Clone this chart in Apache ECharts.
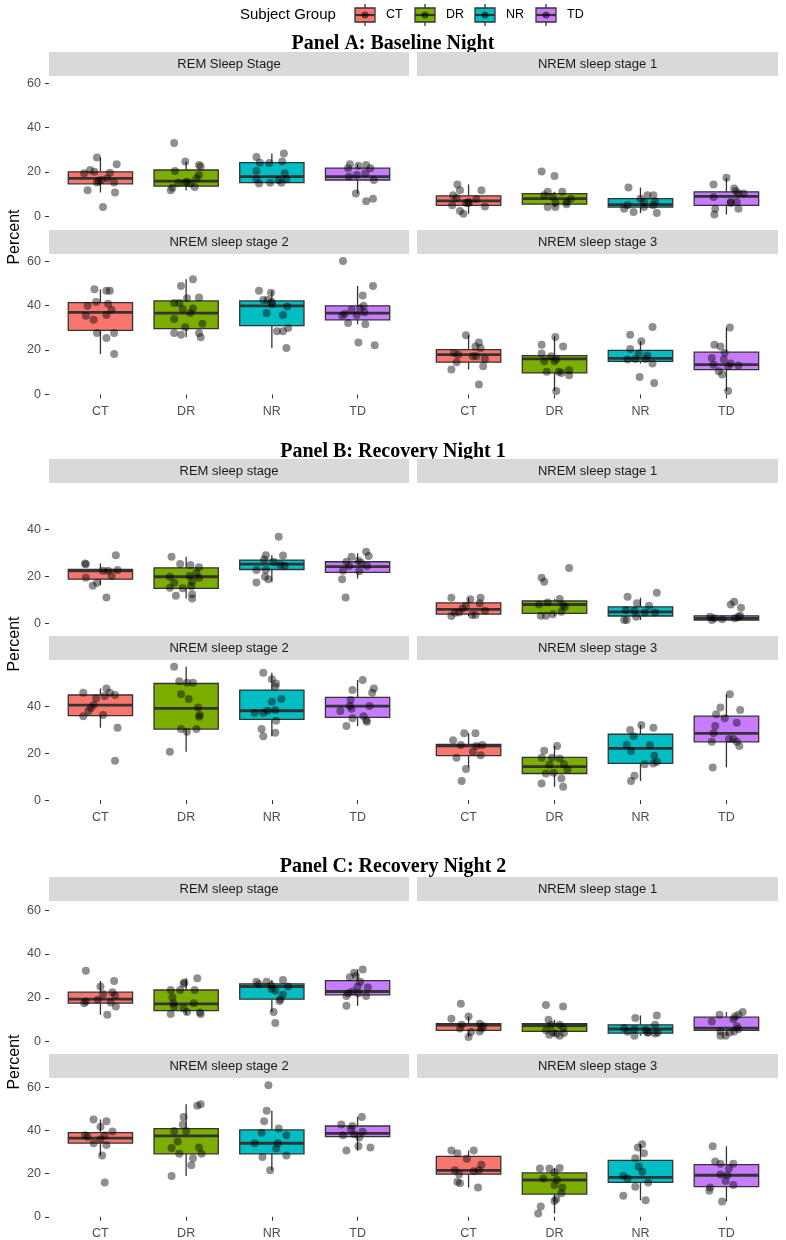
<!DOCTYPE html>
<html><head><meta charset="utf-8">
<script src="https://cdn.jsdelivr.net/npm/echarts@6/dist/echarts.min.js"></script>
<style>html,body{margin:0;padding:0;background:#fff}#c{width:786px;height:1240px}</style>
</head><body><div id="c"></div>
<script>
const groups = ['CT','DR','NR','TD'];
const panelTitles = ['Panel A: Baseline Night','Panel B: Recovery Night 1','Panel C: Recovery Night 2'];
const stripLabels = [
  ['REM Sleep Stage','NREM sleep stage 1','NREM sleep stage 2','NREM sleep stage 3'],
  ['REM sleep stage','NREM sleep stage 1','NREM sleep stage 2','NREM sleep stage 3'],
  ['REM sleep stage','NREM sleep stage 1','NREM sleep stage 2','NREM sleep stage 3']
];
const yTickValues = [0,20,40,60];
const legendTitle = 'Subject Group';
const yTitle = 'Percent';

// box stats per group: [lower whisker, Q1, median, Q3, upper whisker]
// points per group: [jitter, value]
const A_REM_box = [[10.8,14.7,17.1,20.1,26.5],[11.8,13.6,15.9,20.9,24.7],[14.8,15.2,17.9,24.2,28.3],[10.3,16.4,17.9,21.7,23.5]];
const A_REM_pts = [
 [[-0.04,26.5],[-0.19,19.4],[-0.12,20.9],[-0.07,20.1],[0.19,23.5],[0.11,19.7],[0.08,17.1],[-0.02,15.9],[0.01,16.4],[-0.04,15.3],[0.16,15.3],[-0.15,11.8],[0.17,10.8],[0.03,4.2]],
 [[-0.14,33.0],[-0.01,24.7],[-0.13,20.5],[0.15,23.2],[0.17,22.5],[0.15,18.6],[0.12,17.1],[-0.09,15.2],[0.01,15.6],[0.05,14.8],[0.10,13.3],[-0.18,11.8],[-0.16,12.9],[-0.01,15.2]],
 [[-0.18,26.7],[-0.14,24.2],[-0.03,24.0],[0.14,28.3],[0.12,24.7],[-0.18,20.5],[0.15,19.4],[-0.18,16.7],[-0.15,14.8],[-0.02,15.2],[0.08,16.4],[0.11,15.2],[0.17,16.7]],
 [[-0.09,23.5],[0.01,22.8],[0.10,23.2],[-0.11,21.7],[0.15,21.7],[-0.10,17.9],[-0.01,18.6],[0.09,19.4],[0.19,16.4],[-0.02,10.3],[0.10,6.8],[0.18,8.0]]
];
const A_N1_box = [[1.2,5.0,7.0,9.3,14.4],[4.2,5.5,8.0,10.3,11.1],[1.5,4.2,5.3,8.0,13.0],[0.9,5.0,9.0,11.1,17.4]];
const A_N1_pts = [
 [[-0.13,14.4],[-0.10,11.8],[0.15,11.8],[-0.18,9.5],[-0.14,8.3],[0.00,6.5],[0.09,7.9],[-0.03,6.1],[-0.19,5.0],[-0.10,2.4],[-0.06,1.2],[0.00,6.0],[0.19,4.5]],
 [[-0.15,20.2],[0.00,18.2],[-0.08,11.1],[0.09,11.1],[-0.12,9.5],[-0.02,8.9],[0.19,8.0],[0.14,6.5],[-0.08,4.2],[0.01,4.2],[0.14,5.5],[0.01,6.2]],
 [[-0.14,13.0],[0.08,9.5],[0.15,9.5],[0.00,8.0],[0.04,6.5],[0.17,6.8],[-0.19,3.5],[-0.08,2.0],[0.04,4.2],[0.19,1.5],[-0.15,5.0],[0.15,5.0]],
 [[0.00,17.4],[-0.15,14.4],[0.09,12.6],[0.11,11.5],[0.20,10.3],[0.14,10.3],[-0.15,8.8],[0.05,6.5],[0.12,6.5],[-0.13,3.5],[-0.14,0.9],[0.05,6.0],[0.14,3.5]]
];
const A_N2_box = [[18.2,28.8,36.9,41.3,47.3],[25.7,29.6,36.6,42.1,51.8],[20.9,31.0,39.9,42.1,46.7],[31.6,33.6,36.6,39.9,48.8]];
const A_N2_pts = [
 [[-0.07,47.3],[0.07,46.7],[0.11,46.7],[-0.05,41.6],[-0.15,39.9],[0.09,40.8],[0.13,38.1],[-0.17,35.4],[-0.08,33.6],[0.07,35.7],[-0.04,27.6],[0.16,27.6],[0.07,25.4],[0.16,18.2]],
 [[0.08,51.8],[-0.06,48.8],[0.01,43.3],[0.15,43.6],[-0.14,41.1],[-0.08,41.1],[-0.04,38.4],[0.08,38.7],[0.05,36.6],[-0.14,33.9],[0.19,31.8],[-0.01,30.2],[-0.14,27.6],[-0.06,26.9],[0.15,27.6],[0.17,25.7]],
 [[-0.15,46.7],[-0.01,45.8],[-0.10,42.5],[0.00,41.6],[-0.05,42.5],[0.00,40.6],[0.18,39.6],[-0.06,36.6],[0.13,35.8],[0.06,28.4],[0.13,28.4],[0.19,29.9],[0.17,20.9]],
 [[-0.17,60.0],[0.18,48.8],[0.06,44.5],[0.07,39.9],[0.03,38.8],[-0.07,38.1],[-0.18,35.4],[-0.15,36.3],[-0.01,35.8],[0.08,37.0],[-0.11,32.1],[0.09,31.6],[0.01,23.4],[0.20,22.1]]
];
const A_N3_box = [[11.2,14.5,17.9,20.2,26.6],[1.5,9.7,16.0,17.5,26.1],[13.9,14.9,16.2,19.8,23.9],[1.5,11.2,13.4,19.0,30.1]];
const A_N3_pts = [
 [[-0.03,26.6],[0.12,23.4],[0.08,21.6],[0.14,20.9],[-0.17,18.7],[-0.12,17.9],[0.05,17.2],[0.09,17.2],[-0.14,14.5],[0.19,16.0],[0.17,12.7],[-0.20,11.2],[0.12,4.5]],
 [[0.01,25.8],[-0.15,22.4],[0.10,21.6],[-0.15,18.4],[-0.04,17.2],[0.02,16.0],[-0.12,14.9],[0.00,14.9],[-0.09,10.2],[0.05,10.2],[0.08,9.7],[0.17,10.9],[0.17,8.6],[0.02,1.5]],
 [[0.14,30.3],[-0.12,26.9],[0.01,23.9],[-0.12,20.5],[-0.02,18.4],[0.08,17.5],[-0.15,15.7],[-0.06,16.0],[0.06,16.0],[0.14,13.9],[-0.01,7.9],[0.16,5.2]],
 [[0.04,30.1],[-0.14,22.4],[-0.07,21.6],[-0.02,18.7],[-0.17,16.4],[-0.03,15.7],[-0.15,13.4],[0.05,13.9],[0.02,12.7],[0.14,13.0],[-0.09,10.4],[-0.05,9.0],[0.02,1.5]]
];
const B_REM_box = [[16.2,18.7,22.2,22.8,25.4],[10.5,14.8,19.7,23.5,28.2],[17.6,22.8,25.1,26.8,28.9],[19.0,21.6,24.0,26.1,29.7]];
const B_REM_pts = [
 [[-0.18,25.4],[-0.17,25.0],[0.18,28.9],[0.03,22.3],[0.09,22.3],[0.20,22.6],[0.13,20.0],[-0.17,19.3],[-0.04,17.2],[-0.09,15.9],[0.07,10.9]],
 [[-0.17,28.2],[-0.07,25.1],[0.05,24.7],[0.15,23.7],[0.12,21.4],[-0.19,19.7],[0.04,20.0],[0.15,19.3],[-0.14,17.2],[0.07,17.7],[-0.19,15.0],[-0.04,14.8],[0.06,15.7],[-0.12,11.6],[0.07,12.3],[0.07,10.5]],
 [[0.08,36.7],[-0.07,28.9],[0.13,28.7],[-0.09,27.1],[0.02,26.1],[0.10,24.7],[0.15,24.3],[-0.07,22.6],[-0.18,22.6],[-0.08,19.7],[-0.04,18.6],[-0.18,17.3]],
 [[0.10,30.3],[0.13,28.5],[-0.07,28.2],[-0.13,26.1],[0.01,26.5],[0.04,25.7],[0.11,24.3],[-0.10,24.3],[-0.17,22.3],[0.02,22.1],[-0.18,18.7],[-0.14,10.9]]
];
const B_N1_box = [[3.0,3.8,5.8,8.6,10.8],[3.1,4.1,7.9,9.4,10.2],[1.3,3.0,4.8,6.9,10.8],[1.3,1.3,2.0,3.1,3.1]];
const B_N1_pts = [
 [[-0.20,10.8],[0.02,10.1],[0.14,10.8],[0.13,8.4],[-0.03,7.4],[-0.07,6.2],[0.19,5.2],[-0.11,4.5],[-0.16,4.4],[-0.20,3.0],[0.04,3.4],[0.08,3.4]],
 [[0.17,23.4],[-0.15,19.3],[-0.12,17.6],[0.06,10.2],[-0.08,8.8],[-0.18,7.9],[0.10,7.7],[0.12,6.8],[0.08,4.8],[-0.16,3.1],[-0.10,3.1],[-0.02,3.8]],
 [[0.19,12.9],[-0.15,11.2],[-0.04,8.4],[0.10,7.4],[-0.17,5.5],[-0.07,5.2],[0.17,4.5],[0.05,4.5],[-0.05,2.7],[-0.19,1.3],[-0.16,1.3]],
 [[0.09,9.1],[0.05,7.9],[0.17,6.5],[-0.19,2.7],[-0.14,2.0],[-0.05,1.6],[0.10,2.0],[0.14,2.7],[-0.17,1.3],[0.16,3.1]]
];
const B_N2_box = [[30.8,35.9,40.4,44.7,47.5],[20.6,30.2,39.0,49.6,56.7],[27.2,34.3,38.0,46.8,54.2],[31.5,35.2,40.0,43.7,51.1]];
const B_N2_pts = [
 [[-0.20,45.7],[0.07,47.5],[0.11,45.7],[0.17,44.7],[0.05,44.3],[-0.05,43.3],[-0.08,40.4],[-0.11,39.3],[-0.14,37.9],[-0.20,35.7],[0.03,36.2],[0.20,30.8],[0.17,16.7]],
 [[-0.14,56.7],[-0.08,50.6],[0.01,49.9],[0.08,49.9],[-0.06,45.0],[0.03,43.0],[0.14,39.4],[0.16,36.2],[0.15,35.5],[-0.06,30.2],[0.12,30.2],[0.01,29.1],[-0.19,20.6]],
 [[-0.10,54.2],[0.00,51.4],[0.05,49.6],[0.04,48.2],[0.11,43.0],[0.00,41.8],[-0.20,37.2],[-0.10,37.2],[-0.05,38.0],[0.04,38.3],[0.05,33.8],[-0.12,30.2],[-0.10,27.2],[0.04,28.6]],
 [[0.06,51.1],[-0.06,46.8],[0.19,47.5],[0.17,45.7],[-0.08,42.6],[-0.09,40.0],[-0.07,38.9],[0.14,40.0],[-0.20,37.9],[-0.06,34.8],[0.07,35.7],[0.10,34.0],[0.11,33.3],[-0.13,31.5]]
];
const B_N3_box = [[13.9,18.9,23.1,23.7,28.4],[5.7,11.3,14.2,18.2,23.0],[8.1,15.6,22.0,28.0,31.9],[13.9,24.8,28.4,35.7,45.0]];
const B_N3_pts = [
 [[-0.05,28.4],[0.08,28.4],[-0.18,25.5],[-0.09,23.4],[0.09,23.0],[0.16,23.4],[0.05,20.6],[0.14,19.1],[-0.14,18.0],[-0.03,13.2],[-0.08,8.1]],
 [[0.03,23.0],[-0.12,21.0],[-0.15,18.0],[-0.03,18.0],[0.06,17.7],[0.11,15.2],[-0.06,15.0],[0.15,13.0],[-0.10,11.3],[-0.01,11.6],[0.08,9.2],[-0.15,7.1],[0.10,5.7]],
 [[0.01,31.9],[-0.12,29.8],[0.15,30.8],[-0.08,27.2],[-0.16,23.4],[0.11,23.4],[-0.11,20.9],[0.16,18.9],[0.19,16.3],[0.15,15.6],[0.05,15.2],[-0.07,10.4],[-0.11,8.1]],
 [[0.04,45.0],[-0.07,39.4],[0.16,38.3],[-0.12,36.5],[-0.02,34.8],[0.12,32.9],[-0.13,31.5],[-0.15,28.4],[0.03,26.0],[0.08,26.0],[-0.17,24.8],[0.12,24.8],[0.15,23.0],[-0.16,13.9]]
];
const C_REM_box = [[12.3,17.6,19.4,22.6,27.7],[12.3,14.2,17.3,23.6,29.0],[13.5,19.4,25.2,26.4,28.2],[16.4,21.4,22.9,27.9,33.0]];
const C_REM_pts = [
 [[-0.17,32.4],[0.16,27.7],[0.00,25.2],[0.14,22.6],[0.03,21.8],[0.17,21.1],[-0.03,19.1],[-0.17,18.3],[-0.19,17.6],[0.12,17.9],[0.18,16.1],[0.08,12.3]],
 [[0.13,29.0],[-0.02,27.0],[-0.03,26.5],[-0.18,23.6],[-0.07,23.6],[0.10,23.6],[-0.16,20.3],[-0.15,17.6],[0.09,17.6],[-0.14,16.1],[-0.03,15.3],[-0.18,12.6],[0.01,13.5],[0.16,13.3],[0.17,12.6]],
 [[-0.18,27.4],[-0.06,27.4],[0.13,28.2],[-0.15,26.2],[-0.01,25.6],[0.19,25.2],[0.04,23.3],[0.00,24.0],[0.13,21.4],[0.09,18.6],[0.10,19.4],[0.02,13.5],[0.04,8.5]],
 [[0.06,33.0],[-0.04,31.5],[-0.02,30.0],[-0.09,29.4],[0.03,27.4],[0.00,25.2],[0.12,24.7],[-0.11,22.1],[-0.06,22.9],[0.01,22.1],[-0.13,20.9],[0.10,20.9],[-0.13,16.4]]
];
const C_N1_box = [[2.1,5.2,7.6,8.2,11.5],[2.7,4.7,7.4,8.2,10.0],[2.7,3.9,5.8,7.7,12.0],[2.7,5.2,6.2,11.2,13.5]];
const C_N1_pts = [
 [[-0.09,17.3],[-0.20,10.5],[0.00,11.5],[-0.08,7.7],[0.13,8.2],[0.17,7.0],[0.15,6.0],[0.03,4.4],[0.00,2.1],[0.13,4.7],[-0.10,6.0]],
 [[-0.10,16.8],[0.10,16.1],[-0.07,10.0],[-0.04,7.7],[0.06,7.7],[0.10,6.1],[-0.10,5.2],[-0.02,4.2],[0.02,3.6],[0.11,4.0],[-0.06,3.2],[0.06,2.7]],
 [[-0.06,10.8],[0.19,12.0],[-0.19,6.2],[-0.07,5.8],[0.17,7.7],[0.06,5.5],[0.09,4.2],[0.20,4.2],[-0.15,4.5],[-0.07,2.7],[0.08,4.2],[0.17,3.8]],
 [[0.19,13.5],[-0.08,12.3],[0.14,12.3],[0.10,11.5],[0.08,10.3],[-0.17,9.2],[0.12,7.0],[0.14,5.8],[-0.07,4.7],[0.04,4.2],[-0.01,2.7],[-0.07,2.7],[0.09,4.7]]
];
const C_N2_box = [[28.3,34.1,36.4,38.9,45.0],[18.8,29.1,37.4,40.8,52.0],[21.5,29.1,34.0,40.2,49.1],[30.6,37.1,38.6,42.0,46.2]];
const C_N2_pts = [
 [[-0.08,45.0],[0.07,44.2],[0.00,41.7],[0.14,39.4],[-0.18,37.7],[-0.15,37.0],[0.05,37.7],[0.00,35.9],[0.07,33.2],[-0.08,34.0],[0.02,28.3],[0.05,15.8]],
 [[0.13,51.4],[0.17,52.0],[-0.03,46.2],[-0.04,42.7],[-0.14,39.7],[0.00,39.7],[-0.10,34.8],[-0.17,31.8],[0.15,32.1],[-0.08,29.1],[0.18,29.1],[0.08,27.1],[0.06,23.8],[-0.17,18.8]],
 [[-0.04,60.9],[-0.06,49.1],[-0.09,44.2],[0.08,40.8],[-0.12,38.9],[0.17,37.7],[-0.20,34.0],[0.07,34.0],[0.05,31.6],[-0.11,27.6],[0.17,28.3],[-0.02,21.5]],
 [[0.05,46.2],[-0.19,42.7],[-0.06,42.0],[-0.08,40.5],[0.06,39.3],[-0.17,37.7],[-0.04,38.2],[0.02,36.7],[0.15,32.1],[-0.13,30.6],[0.01,32.6]]
];
const C_N3_box = [[13.5,19.7,21.5,27.9,30.6],[1.5,10.5,17.0,20.3,22.6],[7.6,15.9,18.2,26.1,33.6],[7.1,13.9,19.2,24.1,32.6]];
const C_N3_pts = [
 [[-0.20,30.6],[0.06,30.6],[-0.13,29.4],[-0.02,26.8],[0.15,24.1],[-0.16,21.5],[0.06,21.1],[0.12,21.5],[-0.11,19.7],[-0.13,16.2],[-0.10,15.5],[0.11,13.5]],
 [[-0.17,22.3],[-0.06,22.3],[0.06,22.6],[0.00,20.5],[-0.13,17.7],[0.03,17.0],[0.00,14.7],[0.09,13.5],[0.08,10.9],[0.02,8.2],[0.00,7.3],[-0.16,4.8],[-0.19,1.5]],
 [[0.02,33.6],[-0.03,32.1],[0.04,29.4],[-0.06,27.1],[-0.02,23.3],[0.02,20.8],[-0.20,18.8],[-0.15,17.7],[0.09,15.9],[-0.06,13.9],[-0.20,9.7],[0.06,7.6]],
 [[-0.16,32.6],[-0.13,25.6],[-0.07,24.5],[0.08,24.5],[0.03,22.3],[-0.07,19.5],[0.01,19.2],[-0.01,16.5],[0.08,14.7],[-0.19,13.5],[-0.20,12.0],[-0.05,7.1]]
];

const facetData = [
  [[A_REM_box,A_REM_pts],[A_N1_box,A_N1_pts],[A_N2_box,A_N2_pts],[A_N3_box,A_N3_pts]],
  [[B_REM_box,B_REM_pts],[B_N1_box,B_N1_pts],[B_N2_box,B_N2_pts],[B_N3_box,B_N3_pts]],
  [[C_REM_box,C_REM_pts],[C_N1_box,C_N1_pts],[C_N2_box,C_N2_pts],[C_N3_box,C_N3_pts]]
];

// ---- styling / layout ----
const fillColors = ['#F8766D','#7CAE00','#00BFC4','#C77CFF'];
const SANS = 'Liberation Sans, Arial, sans-serif';
const SERIF = 'Liberation Serif, Times New Roman, serif';
const layout = [
  {titleY:44, percentY:237, rowTop:[76,254], h:144, ymin:-1.6, ymax:63.2},
  {titleY:452, percentY:644, rowTop:[483,660], h:143.6, ymin:-1.5, ymax:59.6},
  {titleY:867, percentY:1062, rowTop:[901,1078], h:144, ymin:-1.5, ymax:64.2}
];
const colLeft = [49, 417], colW = [360, 361], stripH = 24;

const grid = [], xAxis = [], yAxis = [], series = [], graphic = [];

function renderBox(params, api) {
  const c = api.value(0);
  const pLo = api.coord([c, api.value(1)]);
  const pQ1 = api.coord([c, api.value(2)]);
  const pMed = api.coord([c, api.value(3)]);
  const pQ3 = api.coord([c, api.value(4)]);
  const pHi = api.coord([c, api.value(5)]);
  const gi = api.value(6);
  const w = api.size([0.75, 0])[0];
  const x0 = pQ1[0] - w / 2;
  const st = {stroke:'#333333', lineWidth:1.3};
  return {type:'group', children:[
    {type:'line', shape:{x1:pHi[0],y1:pHi[1],x2:pQ3[0],y2:pQ3[1]}, style:st},
    {type:'line', shape:{x1:pQ1[0],y1:pQ1[1],x2:pLo[0],y2:pLo[1]}, style:st},
    {type:'rect', shape:{x:x0,y:pQ3[1],width:w,height:pQ1[1]-pQ3[1]}, style:{fill:fillColors[gi],stroke:'#333333',lineWidth:1.3}},
    {type:'line', shape:{x1:x0,y1:pMed[1],x2:x0+w,y2:pMed[1]}, style:{stroke:'#333333',lineWidth:2.8}}
  ]};
}

let gIdx = 0;
layout.forEach((L, p) => {
  graphic.push({type:'text', x:393, y:L.titleY, style:{text:panelTitles[p], font:'bold 20px '+SERIF, fill:'#000', align:'center', verticalAlign:'middle'}});
  graphic.push({type:'text', x:15, y:L.percentY, rotation:Math.PI/2, style:{text:yTitle, font:'16px '+SANS, fill:'#000', align:'center', verticalAlign:'middle'}});
  for (let f = 0; f < 4; f++) {
    const row = Math.floor(f / 2), col = f % 2;
    const top = L.rowTop[row];
    graphic.push({type:'rect', shape:{x:colLeft[col], y:top-stripH, width:colW[col], height:stripH}, style:{fill:'#d9d9d9'}});
    graphic.push({type:'text', x:colLeft[col]+colW[col]/2, y:top-stripH/2, style:{text:stripLabels[p][f], font:'13px '+SANS, fill:'#1a1a1a', align:'center', verticalAlign:'middle'}});
    grid.push({left:colLeft[col], top:top, width:colW[col], height:L.h});
    const bottomRow = row === 1, leftCol = col === 0;
    xAxis.push({type:'value', gridIndex:gIdx, min:0.4, max:4.6,
      splitLine:{show:false}, axisLine:{show:false},
      axisTick:{show:bottomRow, customValues:[1,2,3,4], length:4, lineStyle:{color:'#333333', width:1}},
      axisLabel:{show:bottomRow, customValues:[1,2,3,4], margin:7, color:'#4d4d4d', fontSize:12.5, fontFamily:SANS,
        formatter:(v)=>groups[Math.round(v)-1]}
    });
    const yt = yTickValues.filter(v => v >= L.ymin && v <= L.ymax);
    yAxis.push({type:'value', gridIndex:gIdx, min:L.ymin, max:L.ymax,
      splitLine:{show:false}, axisLine:{show:false},
      axisTick:{show:leftCol, customValues:yt, length:4, lineStyle:{color:'#333333', width:1}},
      axisLabel:{show:leftCol, customValues:yt, margin:8, color:'#4d4d4d', fontSize:12.5, fontFamily:SANS}
    });
    const [boxes, pts] = facetData[p][f];
    series.push({type:'custom', xAxisIndex:gIdx, yAxisIndex:gIdx, renderItem:renderBox, z:2,
      data: boxes.map((b, i) => [i+1, b[0], b[1], b[2], b[3], b[4], i]),
      encode:{x:0, y:[1,2,3,4,5]}, silent:true});
    const sdata = [];
    pts.forEach((arr, i) => arr.forEach(([j, v]) => sdata.push([i+1+j, v])));
    series.push({type:'scatter', xAxisIndex:gIdx, yAxisIndex:gIdx, z:3, symbolSize:8,
      itemStyle:{color:'rgba(0,0,0,0.55)'}, data:sdata, silent:true});
    gIdx++;
  }
});

// legend (drawn)
graphic.push({type:'text', x:240, y:15, style:{text:legendTitle, font:'15px '+SANS, fill:'#000', align:'left', verticalAlign:'middle'}});
const keyX = [355, 415, 475, 536], labX = [386, 446, 506, 567];
groups.forEach((g, i) => {
  const cx = keyX[i] + 10;
  graphic.push({type:'line', shape:{x1:cx,y1:4,x2:cx,y2:26}, style:{stroke:'#333333', lineWidth:1.3}});
  graphic.push({type:'rect', shape:{x:keyX[i], y:8, width:20, height:14}, style:{fill:fillColors[i], stroke:'#333333', lineWidth:1.3}});
  graphic.push({type:'line', shape:{x1:keyX[i],y1:15,x2:keyX[i]+20,y2:15}, style:{stroke:'#333333', lineWidth:2.2}});
  graphic.push({type:'circle', shape:{cx:cx, cy:15, r:3.6}, style:{fill:'rgba(0,0,0,0.55)'}});
  graphic.push({type:'text', x:labX[i], y:15, style:{text:g, font:'12.5px '+SANS, fill:'#000', align:'left', verticalAlign:'middle'}});
});

const chart = echarts.init(document.getElementById('c'), null, {renderer:'canvas'});
chart.setOption({animation:false, backgroundColor:'#fff', grid, xAxis, yAxis, series, graphic});
</script></body></html>
